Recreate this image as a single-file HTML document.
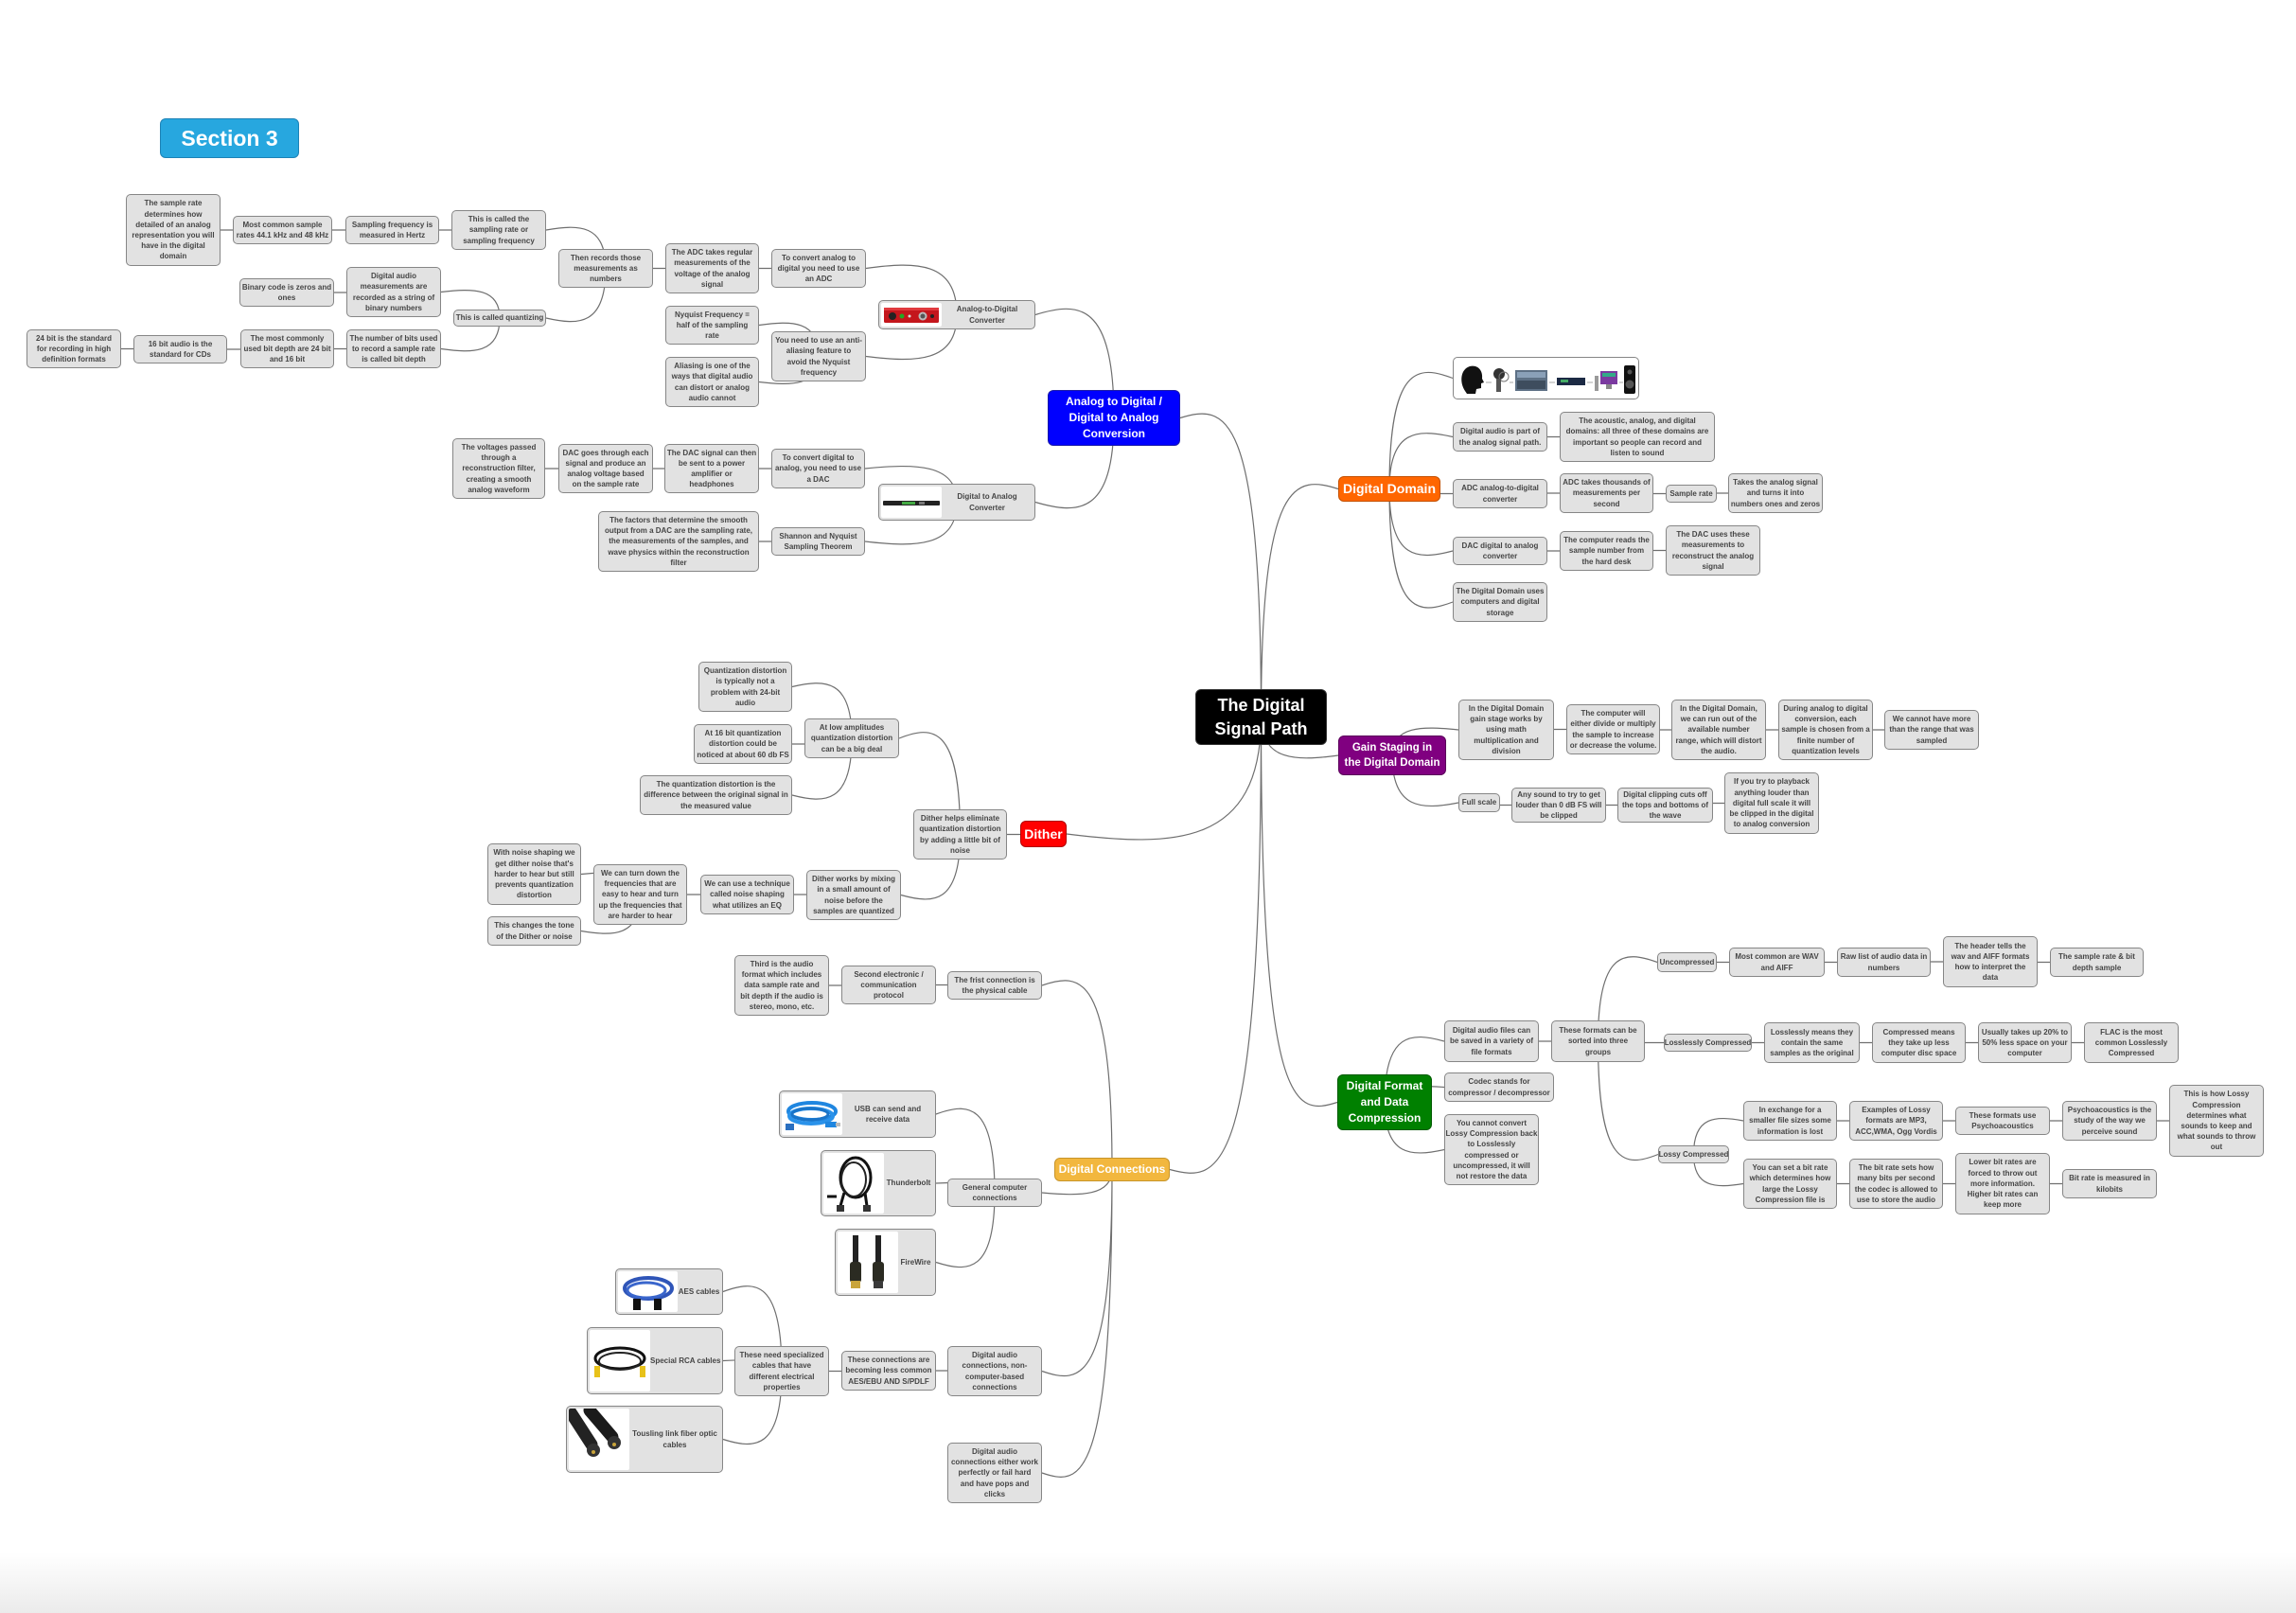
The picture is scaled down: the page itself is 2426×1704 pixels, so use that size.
<!DOCTYPE html>
<html><head><meta charset="utf-8">
<style>
html,body{margin:0;padding:0;width:2426px;height:1704px;overflow:hidden;background:#fff;}
body{position:relative;font-family:"Liberation Sans",sans-serif;}
.n{position:absolute;box-sizing:border-box;border:1.3px solid #868686;border-radius:5px;background:#e2e2e2;display:flex;align-items:center;justify-content:center;text-align:center;font-weight:bold;font-size:8px;line-height:11.2px;color:#454545;white-space:nowrap;z-index:2;}
.c{color:#fff;border:1.5px solid rgba(0,0,0,.28);border-radius:6px;}
.img{justify-content:flex-start;padding:2px;}
.img .pic{background:#fff;height:100%;flex:none;border-radius:2px;overflow:hidden;}
.img .pic svg{display:block;}
.img span{flex:1;text-align:center;}
#L{position:absolute;left:0;top:0;z-index:1;}
#btm{position:absolute;left:0;top:1640px;width:2426px;height:64px;background:linear-gradient(#fff,#ebebeb);z-index:0;}
</style></head>
<body>
<div id="btm"></div>
<svg id="L" width="2426" height="1704"><path id="P" fill="none" stroke="#6f6f6f" stroke-width="1.2"/></svg>

<div class="n c" style="left:169px;top:125px;width:147px;height:42px;background:#27a7df;border-color:#1c82b6;font-size:23px;line-height:26px;">Section 3</div>

<!-- ROOT -->
<div class="n c" id="root" style="left:1263px;top:728px;width:139px;height:59px;background:#000;border-color:#333;font-size:18px;line-height:25px;">The Digital<br>Signal Path</div>

<!-- ADC / DAC -->
<div class="n c" id="blue" style="left:1107px;top:412px;width:140px;height:59px;background:#0000ff;border-color:#1a1aa8;font-size:12px;line-height:17px;">Analog to Digital /<br>Digital to Analog<br>Conversion</div>
<div class="n img" id="adcconv" style="left:928px;top:317px;width:166px;height:31px;"><div class="pic" style="width:64px"><svg width="64" height="25"><rect x="3" y="5" width="58" height="16" rx="1.5" fill="#c4161c"/><rect x="3" y="5" width="58" height="3" fill="#e0393e"/><circle cx="12" cy="14" r="4" fill="#222"/><circle cx="22" cy="14" r="2.5" fill="#2a2"/><circle cx="30" cy="14" r="1.5" fill="#ddd"/><circle cx="44" cy="14" r="4.5" fill="#bbb"/><circle cx="44" cy="14" r="2.5" fill="#555"/><circle cx="54" cy="14" r="2" fill="#222"/></svg></div><span>Analog-to-Digital<br>Converter</span></div>
<div class="n" id="toconvad" style="left:815px;top:263px;width:100px;height:41px;">To convert analog to<br>digital you need to use<br>an ADC</div>
<div class="n" id="adctakes" style="left:703px;top:257px;width:99px;height:53px;">The ADC takes regular<br>measurements of the<br>voltage of the analog<br>signal</div>
<div class="n" id="thenrec" style="left:590px;top:263px;width:100px;height:41px;">Then records those<br>measurements as<br>numbers</div>
<div class="n" id="calledsamp" style="left:477px;top:222px;width:100px;height:42px;">This is called the<br>sampling rate or<br>sampling frequency</div>
<div class="n" id="sampfreq" style="left:365px;top:228px;width:99px;height:30px;">Sampling frequency is<br>measured in Hertz</div>
<div class="n" id="mostcommon" style="left:246px;top:228px;width:105px;height:30px;">Most common sample<br>rates 44.1 kHz and 48 kHz</div>
<div class="n" id="sampdet" style="left:133px;top:205px;width:100px;height:76px;">The sample rate<br>determines how<br>detailed of an analog<br>representation you will<br>have in the digital<br>domain</div>
<div class="n" id="quant" style="left:479px;top:327px;width:98px;height:18px;">This is called quantizing</div>
<div class="n" id="digmeas" style="left:366px;top:282px;width:100px;height:53px;">Digital audio<br>measurements are<br>recorded as a string of<br>binary numbers</div>
<div class="n" id="binary" style="left:253px;top:294px;width:100px;height:30px;">Binary code is zeros and<br>ones</div>
<div class="n" id="numbits" style="left:366px;top:348px;width:100px;height:41px;">The number of bits used<br>to record a sample rate<br>is called bit depth</div>
<div class="n" id="mostcombit" style="left:254px;top:348px;width:99px;height:41px;">The most commonly<br>used bit depth are 24 bit<br>and 16 bit</div>
<div class="n" id="bit16" style="left:141px;top:354px;width:99px;height:30px;">16 bit audio is the<br>standard for CDs</div>
<div class="n" id="bit24" style="left:28px;top:348px;width:100px;height:41px;">24 bit is the standard<br>for recording in high<br>definition formats</div>
<div class="n" id="antialias" style="left:815px;top:350px;width:100px;height:53px;">You need to use an anti-<br>aliasing feature to<br>avoid the Nyquist<br>frequency</div>
<div class="n" id="nyq" style="left:703px;top:323px;width:99px;height:41px;">Nyquist Frequency =<br>half of the sampling<br>rate</div>
<div class="n" id="aliasing" style="left:703px;top:377px;width:99px;height:53px;">Aliasing is one of the<br>ways that digital audio<br>can distort or analog<br>audio cannot</div>

<div class="n img" id="dacconv" style="left:928px;top:511px;width:166px;height:39px;"><div class="pic" style="width:64px"><svg width="64" height="35"><rect x="2" y="15" width="60" height="5" rx="1" fill="#222"/><rect x="22" y="16" width="14" height="3" fill="#4a4"/><rect x="40" y="16" width="6" height="3" fill="#777"/></svg></div><span>Digital to Analog<br>Converter</span></div>
<div class="n" id="toconvda" style="left:815px;top:474px;width:99px;height:42px;">To convert digital to<br>analog, you need to use<br>a DAC</div>
<div class="n" id="dacsig" style="left:702px;top:469px;width:100px;height:52px;">The DAC signal can then<br>be sent to a power<br>amplifier or<br>headphones</div>
<div class="n" id="dacgoes" style="left:590px;top:469px;width:100px;height:52px;">DAC goes through each<br>signal and produce an<br>analog voltage based<br>on the sample rate</div>
<div class="n" id="voltages" style="left:478px;top:463px;width:98px;height:64px;">The voltages passed<br>through a<br>reconstruction filter,<br>creating a smooth<br>analog waveform</div>
<div class="n" id="shannon" style="left:815px;top:557px;width:99px;height:30px;">Shannon and Nyquist<br>Sampling Theorem</div>
<div class="n" id="factors" style="left:632px;top:540px;width:170px;height:64px;">The factors that determine the smooth<br>output from a DAC are the sampling rate,<br>the measurements of the samples, and<br>wave physics within the reconstruction<br>filter</div>

<!-- DIGITAL DOMAIN -->
<div class="n c" id="dd" style="left:1414px;top:503px;width:108px;height:27px;background:#ff6600;border-color:#c45000;font-size:14px;line-height:17px;">Digital Domain</div>
<div class="n" id="strip" style="left:1535px;top:377px;width:197px;height:45px;background:#fff;"><svg width="190" height="40"><path d="M9 33 C3 24 4 10 14 7 C23 5 28 12 27 20 L29 24 L26 25 L26 30 L21 31 L20 36 L11 36 Z" fill="#111"/><line x1="31" y1="24" x2="37" y2="24" stroke="#aaa"/><circle cx="45" cy="15" r="6" fill="#333"/><circle cx="50" cy="18" r="5" fill="none" stroke="#777"/><rect x="42" y="20" width="5" height="14" fill="#555"/><line x1="56" y1="24" x2="60" y2="24" stroke="#aaa"/><rect x="62" y="11" width="34" height="22" fill="#5d7085"/><rect x="64" y="13" width="30" height="6" fill="#8aa0b8"/><rect x="64" y="22" width="30" height="9" fill="#3e4d5e"/><line x1="98" y1="24" x2="104" y2="24" stroke="#aaa"/><rect x="106" y="19" width="30" height="8" fill="#1c2a44"/><rect x="110" y="21" width="8" height="3" fill="#4a6"/><line x1="138" y1="24" x2="144" y2="24" stroke="#aaa"/><rect x="146" y="17" width="4" height="16" fill="#999"/><rect x="152" y="12" width="18" height="14" fill="#7b3aa0"/><rect x="154" y="14" width="14" height="4" fill="#3a8"/><rect x="158" y="26" width="6" height="5" fill="#888"/><line x1="172" y1="24" x2="176" y2="24" stroke="#aaa"/><rect x="177" y="6" width="12" height="30" rx="2" fill="#111"/><circle cx="183" cy="26" r="4.5" fill="#555"/><circle cx="183" cy="13" r="2.5" fill="#555"/></svg></div>
<div class="n" id="ddpart" style="left:1535px;top:446px;width:100px;height:31px;">Digital audio is part of<br>the analog signal path.</div>
<div class="n" id="acoustic" style="left:1648px;top:435px;width:164px;height:53px;">The acoustic, analog, and digital<br>domains: all three of these domains are<br>important so people can record and<br>listen to sound</div>
<div class="n" id="adca2d" style="left:1535px;top:506px;width:100px;height:31px;">ADC analog-to-digital<br>converter</div>
<div class="n" id="adcthou" style="left:1648px;top:500px;width:99px;height:42px;">ADC takes thousands of<br>measurements per<br>second</div>
<div class="n" id="samprate" style="left:1760px;top:512px;width:54px;height:19px;">Sample rate</div>
<div class="n" id="takes" style="left:1826px;top:500px;width:100px;height:42px;">Takes the analog signal<br>and turns it into<br>numbers ones and zeros</div>
<div class="n" id="dacd2a" style="left:1535px;top:567px;width:100px;height:30px;">DAC digital to analog<br>converter</div>
<div class="n" id="compreads" style="left:1648px;top:561px;width:99px;height:42px;">The computer reads the<br>sample number from<br>the hard desk</div>
<div class="n" id="dacuses" style="left:1760px;top:555px;width:100px;height:53px;">The DAC uses these<br>measurements to<br>reconstruct the analog<br>signal</div>
<div class="n" id="dduses" style="left:1535px;top:615px;width:100px;height:42px;">The Digital Domain uses<br>computers and digital<br>storage</div>

<!-- GAIN STAGING -->
<div class="n c" id="gs" style="left:1414px;top:777px;width:114px;height:42px;background:#800080;border-color:#5a005a;font-size:11.5px;line-height:16.5px;">Gain Staging in<br>the Digital Domain</div>
<div class="n" id="gs1" style="left:1541px;top:739px;width:101px;height:64px;">In the Digital Domain<br>gain stage works by<br>using math<br>multiplication and<br>division</div>
<div class="n" id="gs2" style="left:1655px;top:744px;width:99px;height:53px;">The computer will<br>either divide or multiply<br>the sample to increase<br>or decrease the volume.</div>
<div class="n" id="gs3" style="left:1766px;top:739px;width:100px;height:64px;">In the Digital Domain,<br>we can run out of the<br>available number<br>range, which will distort<br>the audio.</div>
<div class="n" id="gs4" style="left:1879px;top:739px;width:100px;height:64px;">During analog to digital<br>conversion, each<br>sample is chosen from a<br>finite number of<br>quantization levels</div>
<div class="n" id="gs5" style="left:1991px;top:750px;width:100px;height:42px;">We cannot have more<br>than the range that was<br>sampled</div>
<div class="n" id="fullscale" style="left:1541px;top:838px;width:44px;height:20px;">Full scale</div>
<div class="n" id="anysound" style="left:1597px;top:832px;width:100px;height:37px;">Any sound to try to get<br>louder than 0 dB FS will<br>be clipped</div>
<div class="n" id="clipping" style="left:1709px;top:832px;width:101px;height:37px;">Digital clipping cuts off<br>the tops and bottoms of<br>the wave</div>
<div class="n" id="ifyou" style="left:1822px;top:816px;width:100px;height:65px;">If you try to playback<br>anything louder than<br>digital full scale it will<br>be clipped in the digital<br>to analog conversion</div>

<!-- DIGITAL FORMAT -->
<div class="n c" id="df" style="left:1413px;top:1135px;width:100px;height:59px;background:#008000;border-color:#005a00;font-size:12px;line-height:17px;">Digital Format<br>and Data<br>Compression</div>
<div class="n" id="dafiles" style="left:1526px;top:1078px;width:100px;height:44px;">Digital audio files can<br>be saved in a variety of<br>file formats</div>
<div class="n" id="sorted" style="left:1639px;top:1078px;width:99px;height:44px;">These formats can be<br>sorted into three<br>groups</div>
<div class="n" id="uncompressed" style="left:1751px;top:1006px;width:63px;height:21px;">Uncompressed</div>
<div class="n" id="wav" style="left:1827px;top:1001px;width:101px;height:31px;">Most common are WAV<br>and AIFF</div>
<div class="n" id="rawlist" style="left:1941px;top:1001px;width:99px;height:31px;">Raw list of audio data in<br>numbers</div>
<div class="n" id="header" style="left:2053px;top:989px;width:100px;height:54px;">The header tells the<br>wav and AIFF formats<br>how to interpret the<br>data</div>
<div class="n" id="sampratebit" style="left:2166px;top:1001px;width:99px;height:31px;">The sample rate &amp; bit<br>depth sample</div>
<div class="n" id="lossless" style="left:1758px;top:1092px;width:93px;height:19px;">Losslessly Compressed</div>
<div class="n" id="llmeans" style="left:1864px;top:1080px;width:101px;height:43px;">Losslessly means they<br>contain the same<br>samples as the original</div>
<div class="n" id="compmeans" style="left:1978px;top:1080px;width:99px;height:43px;">Compressed means<br>they take up less<br>computer disc space</div>
<div class="n" id="usually" style="left:2090px;top:1080px;width:99px;height:43px;">Usually takes up 20% to<br>50% less space on your<br>computer</div>
<div class="n" id="flac" style="left:2202px;top:1080px;width:100px;height:43px;">FLAC is the most<br>common Losslessly<br>Compressed</div>
<div class="n" id="codec" style="left:1526px;top:1133px;width:116px;height:31px;">Codec stands for<br>compressor / decompressor</div>
<div class="n" id="cannot" style="left:1526px;top:1177px;width:100px;height:75px;">You cannot convert<br>Lossy Compression back<br>to Losslessly<br>compressed or<br>uncompressed, it will<br>not restore the data</div>
<div class="n" id="lossy" style="left:1752px;top:1210px;width:75px;height:19px;">Lossy Compressed</div>
<div class="n" id="exchange" style="left:1842px;top:1163px;width:99px;height:42px;">In exchange for a<br>smaller file sizes some<br>information is lost</div>
<div class="n" id="examples" style="left:1954px;top:1163px;width:99px;height:42px;">Examples of Lossy<br>formats are MP3,<br>ACC,WMA, Ogg Vordis</div>
<div class="n" id="psyuse" style="left:2066px;top:1169px;width:100px;height:30px;">These formats use<br>Psychoacoustics</div>
<div class="n" id="psyis" style="left:2179px;top:1163px;width:100px;height:42px;">Psychoacoustics is the<br>study of the way we<br>perceive sound</div>
<div class="n" id="howlossy" style="left:2292px;top:1146px;width:100px;height:76px;">This is how Lossy<br>Compression<br>determines what<br>sounds to keep and<br>what sounds to throw<br>out</div>
<div class="n" id="setbit" style="left:1842px;top:1224px;width:99px;height:53px;">You can set a bit rate<br>which determines how<br>large the Lossy<br>Compression file is</div>
<div class="n" id="bitsets" style="left:1954px;top:1224px;width:99px;height:53px;">The bit rate sets how<br>many bits per second<br>the codec is allowed to<br>use to store the audio</div>
<div class="n" id="lower" style="left:2066px;top:1218px;width:100px;height:65px;">Lower bit rates are<br>forced to throw out<br>more information.<br>Higher bit rates can<br>keep more</div>
<div class="n" id="kilobits" style="left:2179px;top:1235px;width:100px;height:31px;">Bit rate is measured in<br>kilobits</div>

<!-- DITHER -->
<div class="n c" id="dither" style="left:1078px;top:867px;width:49px;height:28px;background:#ff0000;border-color:#b00000;font-size:14px;line-height:17px;">Dither</div>
<div class="n" id="dhelps" style="left:965px;top:855px;width:99px;height:53px;">Dither helps eliminate<br>quantization distortion<br>by adding a little bit of<br>noise</div>
<div class="n" id="allow" style="left:850px;top:759px;width:100px;height:42px;">At low amplitudes<br>quantization distortion<br>can be a big deal</div>
<div class="n" id="qd24" style="left:738px;top:699px;width:99px;height:53px;">Quantization distortion<br>is typically not a<br>problem with 24-bit<br>audio</div>
<div class="n" id="at16" style="left:733px;top:765px;width:104px;height:42px;">At 16 bit quantization<br>distortion could be<br>noticed at about 60 db FS</div>
<div class="n" id="qdiff" style="left:676px;top:819px;width:161px;height:42px;">The quantization distortion is the<br>difference between the original signal in<br>the measured value</div>
<div class="n" id="dworks" style="left:852px;top:919px;width:100px;height:53px;">Dither works by mixing<br>in a small amount of<br>noise before the<br>samples are quantized</div>
<div class="n" id="technique" style="left:740px;top:924px;width:99px;height:42px;">We can use a technique<br>called noise shaping<br>what utilizes an EQ</div>
<div class="n" id="turndown" style="left:627px;top:913px;width:99px;height:64px;">We can turn down the<br>frequencies that are<br>easy to hear and turn<br>up the frequencies that<br>are harder to hear</div>
<div class="n" id="noiseshape" style="left:515px;top:891px;width:99px;height:65px;">With noise shaping we<br>get dither noise that's<br>harder to hear but still<br>prevents quantization<br>distortion</div>
<div class="n" id="tone" style="left:515px;top:968px;width:99px;height:31px;">This changes the tone<br>of the Dither or noise</div>

<!-- DIGITAL CONNECTIONS -->
<div class="n c" id="dc" style="left:1114px;top:1223px;width:122px;height:25px;background:#f2b73e;border-color:#c8952b;font-size:12px;line-height:15px;">Digital Connections</div>
<div class="n" id="frist" style="left:1001px;top:1026px;width:100px;height:30px;">The frist connection is<br>the physical cable</div>
<div class="n" id="second" style="left:889px;top:1020px;width:100px;height:41px;">Second electronic /<br>communication<br>protocol</div>
<div class="n" id="third" style="left:776px;top:1009px;width:100px;height:64px;">Third is the audio<br>format which includes<br>data sample rate and<br>bit depth if the audio is<br>stereo, mono, etc.</div>
<div class="n" id="general" style="left:1001px;top:1245px;width:100px;height:30px;">General computer<br>connections</div>
<div class="n img" id="usb" style="left:823px;top:1152px;width:166px;height:50px;"><div class="pic" style="width:64px"><svg width="64" height="46"><ellipse cx="32" cy="19" rx="25" ry="9" stroke="#1f86e0" stroke-width="4" fill="none"/><ellipse cx="31" cy="24" rx="23" ry="8" stroke="#2a92ea" stroke-width="4" fill="none"/><ellipse cx="30" cy="22" rx="19" ry="6" stroke="#1a74c8" stroke-width="3" fill="none"/><rect x="46" y="30" width="12" height="6" fill="#1f86e0"/><rect x="57" y="31" width="5" height="4" fill="#bbb"/><rect x="4" y="32" width="9" height="7" fill="#2a6fc0"/></svg></div><span>USB can send and<br>receive data</span></div>
<div class="n img" id="thunderbolt" style="left:867px;top:1215px;width:122px;height:70px;"><div class="pic" style="width:64px"><svg width="64" height="66"><ellipse cx="34" cy="26" rx="16" ry="21" stroke="#111" stroke-width="3" fill="none"/><ellipse cx="32" cy="28" rx="13" ry="18" stroke="#222" stroke-width="2" fill="none"/><path d="M22 42 L18 56 M44 42 L46 56" stroke="#111" stroke-width="3" fill="none"/><rect x="14" y="55" width="8" height="7" fill="#333"/><rect x="42" y="55" width="8" height="7" fill="#333"/><path d="M4 46 L14 46" stroke="#111" stroke-width="3"/></svg></div><span>Thunderbolt</span></div>
<div class="n img" id="firewire" style="left:882px;top:1298px;width:107px;height:71px;"><div class="pic" style="width:64px"><svg width="64" height="67"><rect x="16" y="4" width="6" height="30" fill="#222"/><rect x="13" y="32" width="12" height="22" rx="3" fill="#2b2b22"/><rect x="14" y="52" width="10" height="8" fill="#c9a43a"/><rect x="40" y="4" width="6" height="30" fill="#222"/><rect x="37" y="32" width="12" height="22" rx="3" fill="#2b2b22"/><rect x="38" y="52" width="10" height="8" fill="#3a3a3a"/></svg></div><span>FireWire</span></div>
<div class="n" id="noncomp" style="left:1001px;top:1422px;width:100px;height:53px;">Digital audio<br>connections, non-<br>computer-based<br>connections</div>
<div class="n" id="lesscommon" style="left:889px;top:1427px;width:100px;height:42px;">These connections are<br>becoming less common<br>AES/EBU AND S/PDLF</div>
<div class="n" id="specialized" style="left:776px;top:1422px;width:100px;height:53px;">These need specialized<br>cables that have<br>different electrical<br>properties</div>
<div class="n img" id="aes" style="left:650px;top:1340px;width:114px;height:49px;"><div class="pic" style="width:63px"><svg width="63" height="45"><ellipse cx="32" cy="18" rx="25" ry="11" stroke="#2f55b8" stroke-width="4" fill="none"/><ellipse cx="30" cy="20" rx="20" ry="8" stroke="#3a66cc" stroke-width="3" fill="none"/><rect x="16" y="29" width="8" height="12" fill="#111"/><rect x="38" y="29" width="8" height="12" fill="#111"/></svg></div><span>AES cables</span></div>
<div class="n img" id="rca" style="left:620px;top:1402px;width:144px;height:71px;"><div class="pic" style="width:64px"><svg width="64" height="67"><ellipse cx="32" cy="30" rx="26" ry="11" stroke="#111" stroke-width="3" fill="none"/><ellipse cx="32" cy="33" rx="22" ry="9" stroke="#222" stroke-width="2" fill="none"/><rect x="5" y="38" width="6" height="12" fill="#e8c21a"/><rect x="53" y="38" width="6" height="12" fill="#e8c21a"/></svg></div><span>Special RCA cables</span></div>
<div class="n img" id="toslink" style="left:598px;top:1485px;width:166px;height:71px;"><div class="pic" style="width:64px"><svg width="64" height="67"><path d="M2 4 L24 38" stroke="#222" stroke-width="13" stroke-linecap="round"/><circle cx="26" cy="44" r="7" fill="#333"/><circle cx="26" cy="46" r="2" fill="#c9a43a"/><path d="M22 2 L46 30" stroke="#1a1a1a" stroke-width="13" stroke-linecap="round"/><circle cx="48" cy="36" r="7" fill="#333"/><circle cx="48" cy="38" r="2" fill="#c9a43a"/></svg></div><span>Tousling link fiber optic<br>cables</span></div>
<div class="n" id="either" style="left:1001px;top:1524px;width:100px;height:64px;">Digital audio<br>connections either work<br>perfectly or fail hard<br>and have pops and<br>clicks</div>

<script>
(function(){
var E="root>blue root>dd root>gs root>df root>dither root>dc blue>adcconv blue>dacconv adcconv>toconvad adcconv>antialias toconvad>adctakes adctakes>thenrec thenrec>calledsamp thenrec>quant calledsamp>sampfreq sampfreq>mostcommon mostcommon>sampdet quant>digmeas quant>numbits digmeas>binary numbits>mostcombit mostcombit>bit16 bit16>bit24 antialias>nyq antialias>aliasing dacconv>toconvda dacconv>shannon toconvda>dacsig dacsig>dacgoes dacgoes>voltages shannon>factors dd>strip dd>ddpart dd>adca2d dd>dacd2a dd>dduses ddpart>acoustic adca2d>adcthou adcthou>samprate samprate>takes dacd2a>compreads compreads>dacuses gs>gs1 gs>fullscale gs1>gs2 gs2>gs3 gs3>gs4 gs4>gs5 fullscale>anysound anysound>clipping clipping>ifyou df>dafiles df>codec df>cannot dafiles>sorted sorted>uncompressed sorted>lossless sorted>lossy uncompressed>wav wav>rawlist rawlist>header header>sampratebit lossless>llmeans llmeans>compmeans compmeans>usually usually>flac lossy>exchange lossy>setbit exchange>examples examples>psyuse psyuse>psyis psyis>howlossy setbit>bitsets bitsets>lower lower>kilobits dither>dhelps dhelps>allow dhelps>dworks allow>qd24 allow>at16 allow>qdiff dworks>technique technique>turndown turndown>noiseshape turndown>tone dc>frist dc>general dc>noncomp dc>either frist>second second>third general>usb general>thunderbolt general>firewire noncomp>lesscommon lesscommon>specialized specialized>aes specialized>rca specialized>toslink".split(" ");
function b(id){var e=document.getElementById(id);return {x:e.offsetLeft,y:e.offsetTop,w:e.offsetWidth,h:e.offsetHeight};}
var d="";
E.forEach(function(s){var a=s.split(">"),p=b(a[0]),c=b(a[1]);
var px=p.x+p.w/2,py=p.y+p.h/2;var right=c.x>px;var ex=right?c.x:c.x+c.w;var ey=c.y+c.h/2;var dy=ey-py;
if(Math.abs(dy)<6.5){d+="M"+px+" "+ey+"L"+ex+" "+ey;}
else{var o=(dy>0?1:-1)*Math.min(Math.abs(dy)*0.15,14);var mx=px+(ex-px)*0.45;
d+="M"+px+" "+py+"C"+px+" "+(ey+o)+" "+mx+" "+(ey+o)+" "+ex+" "+ey;}});
document.getElementById("P").setAttribute("d",d);
})();
</script>
</body></html>
